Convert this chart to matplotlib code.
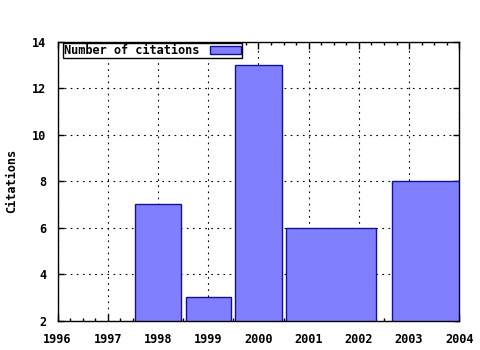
import matplotlib
matplotlib.use("Agg")
import matplotlib.pyplot as plt
from matplotlib.ticker import MultipleLocator

# values
centers = [1998, 1999, 2000, 2001.45, 2003.35]
widths = [0.9, 0.9, 0.92, 1.8, 1.4]
citations = [7, 3, 13, 6, 8]
year_ticks = [1996, 1997, 1998, 1999, 2000, 2001, 2002, 2003, 2004]
cite_ticks = [2, 4, 6, 8, 10, 12, 14]

plt.rcParams['font.family'] = ['DejaVu Sans Mono']
plt.rcParams['font.weight'] = 'bold'
plt.rcParams['axes.labelweight'] = 'bold'
plt.rcParams['font.size'] = 8.6

fig = plt.figure(figsize=(4.8, 3.5), dpi=100)
ax = fig.add_axes([0.1198, 0.0837, 0.8371, 0.7972])

ax.bar(centers, citations, width=widths, bottom=0, color='#8080ff',
       edgecolor='#10109a', linewidth=1.0, label='Number of citations', zorder=3)

ax.set_xlim(1996, 2004)
ax.set_ylim(2, 14)
ax.set_xticks(year_ticks)
ax.set_yticks(cite_ticks)
ax.xaxis.set_minor_locator(MultipleLocator(0.25))
ax.tick_params(axis='both', which='both', direction='in', top=True, right=True, width=1, color='black')
ax.tick_params(axis='x', which='major', length=5, pad=9)
ax.tick_params(axis='x', which='minor', length=2.5)
ax.tick_params(axis='y', which='major', length=4, pad=8)

ax.grid(True, which='major', color='black', linestyle=(0, (1.5, 4)), linewidth=0.8, zorder=1)
for s in ax.spines.values():
    s.set_linewidth(1.0)
    s.set_zorder(4)

ax.set_ylabel('Citations')
ax.yaxis.set_label_coords(-0.0976, 0.5)

leg = ax.legend(loc='upper left', bbox_to_anchor=(0.013, 0.995), markerfirst=False,
                fancybox=False, framealpha=1, edgecolor='black', borderpad=0.1,
                handlelength=2.6, handleheight=0.6, handletextpad=0.9, borderaxespad=0)
leg.get_frame().set_linewidth(1.0)

fig.savefig('out.png', dpi=100)
